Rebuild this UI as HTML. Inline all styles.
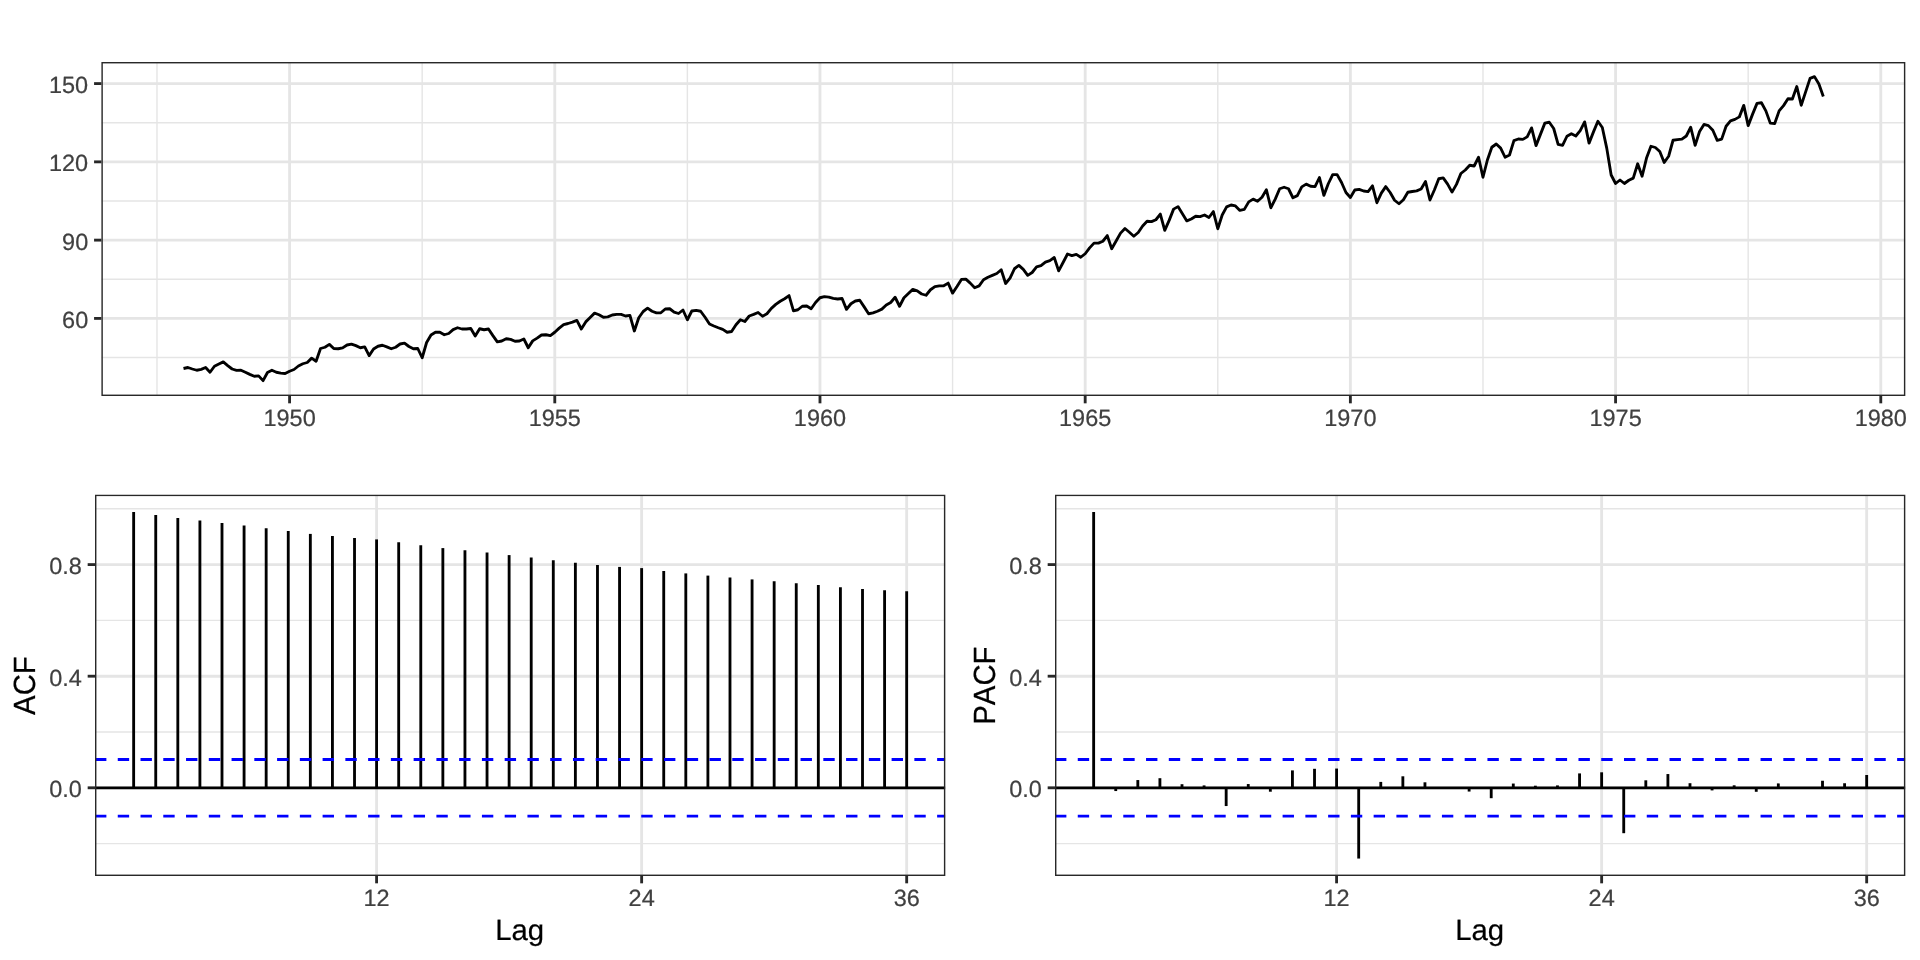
<!DOCTYPE html>
<html lang="en"><head><meta charset="utf-8"><title>Time series display</title>
<style>html,body{margin:0;padding:0;background:#fff;overflow:hidden}svg{display:block}.w{transform:translateZ(0);will-change:transform;width:1920px;height:960px}text{font-family:"Liberation Sans",Arial,Helvetica,sans-serif;font-kerning:none;text-rendering:geometricPrecision}.t{font-size:23.47px;fill:#404040;stroke:#404040;stroke-width:.22px}.h{font-size:29.33px;fill:#000;stroke:#000;stroke-width:.22px}</style></head><body><div class="w">
<svg width="1920" height="960" viewBox="0 0 1920 960">
<rect width="1920" height="960" fill="#fff"/>
<clipPath id="p1"><rect x="101.4" y="62" width="1803.93" height="334"/></clipPath>
<g clip-path="url(#p1)">
<line x1="101.4" y1="357.53" x2="1905.33" y2="357.53" stroke="#E5E5E5" stroke-width="1.42"/>
<line x1="101.4" y1="279.26" x2="1905.33" y2="279.26" stroke="#E5E5E5" stroke-width="1.42"/>
<line x1="101.4" y1="200.99" x2="1905.33" y2="200.99" stroke="#E5E5E5" stroke-width="1.42"/>
<line x1="101.4" y1="122.72" x2="1905.33" y2="122.72" stroke="#E5E5E5" stroke-width="1.42"/>
<line x1="156.98" y1="62" x2="156.98" y2="396" stroke="#E5E5E5" stroke-width="1.42"/>
<line x1="422.18" y1="62" x2="422.18" y2="396" stroke="#E5E5E5" stroke-width="1.42"/>
<line x1="687.38" y1="62" x2="687.38" y2="396" stroke="#E5E5E5" stroke-width="1.42"/>
<line x1="952.58" y1="62" x2="952.58" y2="396" stroke="#E5E5E5" stroke-width="1.42"/>
<line x1="1217.78" y1="62" x2="1217.78" y2="396" stroke="#E5E5E5" stroke-width="1.42"/>
<line x1="1482.98" y1="62" x2="1482.98" y2="396" stroke="#E5E5E5" stroke-width="1.42"/>
<line x1="1748.18" y1="62" x2="1748.18" y2="396" stroke="#E5E5E5" stroke-width="1.42"/>
<line x1="101.4" y1="318.4" x2="1905.33" y2="318.4" stroke="#E5E5E5" stroke-width="2.85"/>
<line x1="101.4" y1="240.13" x2="1905.33" y2="240.13" stroke="#E5E5E5" stroke-width="2.85"/>
<line x1="101.4" y1="161.86" x2="1905.33" y2="161.86" stroke="#E5E5E5" stroke-width="2.85"/>
<line x1="101.4" y1="83.59" x2="1905.33" y2="83.59" stroke="#E5E5E5" stroke-width="2.85"/>
<line x1="289.58" y1="62" x2="289.58" y2="396" stroke="#E5E5E5" stroke-width="2.85"/>
<line x1="554.78" y1="62" x2="554.78" y2="396" stroke="#E5E5E5" stroke-width="2.85"/>
<line x1="819.98" y1="62" x2="819.98" y2="396" stroke="#E5E5E5" stroke-width="2.85"/>
<line x1="1085.18" y1="62" x2="1085.18" y2="396" stroke="#E5E5E5" stroke-width="2.85"/>
<line x1="1350.38" y1="62" x2="1350.38" y2="396" stroke="#E5E5E5" stroke-width="2.85"/>
<line x1="1615.58" y1="62" x2="1615.58" y2="396" stroke="#E5E5E5" stroke-width="2.85"/>
<line x1="1880.78" y1="62" x2="1880.78" y2="396" stroke="#E5E5E5" stroke-width="2.85"/>
<polyline points="183.5,368.5 187.92,367.5 192.34,369 196.76,370.25 201.18,369.38 205.6,367.5 210.02,372.25 214.44,366.25 218.86,364 223.28,361.88 227.7,365.62 232.12,369 236.54,370.38 240.96,370.25 245.38,372.25 249.8,374.38 254.22,376.25 258.64,375.88 263.06,380.62 267.48,372.5 271.9,370.25 276.32,372.25 280.74,373.12 285.16,373.5 289.58,371.25 294,369.5 298.42,366 302.84,363.75 307.26,362.5 311.68,358.12 316.1,361.25 320.52,348.5 324.94,347.25 329.36,344.38 333.78,348.5 338.2,348.75 342.62,347.88 347.04,345 351.46,344.12 355.88,345.62 360.3,347.75 364.72,346.88 369.14,355.62 373.56,349 377.98,346.25 382.4,345.25 386.82,346.88 391.24,348.75 395.66,347.25 400.08,344 404.5,343.12 408.92,346.5 413.34,348.75 417.76,348.5 422.18,357.75 426.6,342.5 431.02,335 435.44,332.25 439.86,332.25 444.28,334.75 448.7,333.5 453.12,329.62 457.54,327.75 461.96,329 466.38,329 470.8,328.5 475.22,336 479.64,328.75 484.06,329.75 488.48,329 492.9,335.62 497.32,341.88 501.74,341 506.16,338.75 510.58,339.38 515,341.25 519.42,341 523.84,339 528.26,347.75 532.68,340.88 537.1,338.12 541.52,335 545.94,334.75 550.36,335.62 554.78,332.25 559.2,328.12 563.62,324.62 568.04,323.5 572.46,322.12 576.88,320.38 581.3,329 585.72,321.88 590.14,317.5 594.56,313.12 598.98,314.75 603.4,317.25 607.82,316.88 612.24,315 616.66,314.38 621.08,314.38 625.5,316 629.92,315.38 634.34,331 638.76,317.75 643.18,311.5 647.6,308.12 652.02,311.25 656.44,312.88 660.86,312.75 665.28,309 669.7,308.75 674.12,312.12 678.54,313.5 682.96,310 687.38,319.75 691.8,311 696.22,310.38 700.64,311.25 705.06,317.25 709.48,324 713.9,326 718.32,327.75 722.74,329.38 727.16,332.25 731.58,331.5 736,324.75 740.42,319.75 744.84,321.5 749.26,316 753.68,314.38 758.1,312.5 762.52,316.25 766.94,313.75 771.36,308.38 775.78,304.38 780.2,301.25 784.62,298.75 789.04,295.62 793.46,310.88 797.88,309.75 802.3,306.25 806.72,306 811.14,308.75 815.56,302.5 819.98,297.75 824.4,296.62 828.82,297.12 833.24,298.38 837.66,299 842.08,298.5 846.5,309.38 850.92,303.75 855.34,301 859.76,300.25 864.18,306.88 868.6,313.75 873.02,312.88 877.44,311.25 881.86,309.12 886.28,305 890.7,302.5 895.12,297.25 899.54,306.25 903.96,297.75 908.38,293.5 912.8,289.38 917.22,290.88 921.64,294 926.06,295.25 930.48,289.75 934.9,286.62 939.32,285.88 943.74,285.75 948.16,283.12 952.58,293.12 957,286.5 961.42,279.38 965.84,279.12 970.26,283.12 974.68,287.75 979.1,285.88 983.52,279.75 987.94,277.25 992.36,275.38 996.78,273.5 1001.2,269.75 1005.62,283.5 1010.04,278.12 1014.46,268.75 1018.88,265.38 1023.3,269.38 1027.72,275.38 1032.14,272.5 1036.56,266.88 1040.98,265.62 1045.4,262.12 1049.82,260.62 1054.24,257.5 1058.66,270.88 1063.08,262.5 1067.5,254 1071.92,255.62 1076.34,254.38 1080.76,257.25 1085.18,253.75 1089.6,247.88 1094.02,243.12 1098.44,243.12 1102.86,241.25 1107.28,235.62 1111.7,248.75 1116.12,241 1120.54,233.12 1124.96,228.5 1129.38,232.25 1133.8,236.25 1138.22,232.5 1142.64,226 1147.06,221.25 1151.48,221.62 1155.9,219.75 1160.32,214.12 1164.74,230.38 1169.16,220.38 1173.58,209.12 1178,206.62 1182.42,213.75 1186.84,220.88 1191.26,219 1195.68,216.25 1200.1,216.62 1204.52,215 1208.94,217.5 1213.36,211.62 1217.78,228.75 1222.2,215 1226.62,206.88 1231.04,205 1235.46,205.88 1239.88,210.38 1244.3,209.38 1248.72,201.88 1253.14,199.12 1257.56,201.25 1261.98,197.25 1266.4,189.75 1270.82,207.75 1275.24,199.12 1279.66,188.75 1284.08,187.25 1288.5,188.75 1292.92,197.75 1297.34,195.62 1301.76,186.88 1306.18,184.12 1310.6,186.25 1315.02,186.62 1319.44,177.5 1323.86,195.38 1328.28,183.75 1332.7,174.62 1337.12,174.62 1341.54,182.5 1345.96,192.5 1350.38,197.5 1354.8,190 1359.22,189.38 1363.64,191 1368.06,191.62 1372.48,185.88 1376.9,202.75 1381.32,193.12 1385.74,186.62 1390.16,192.5 1394.58,200.25 1399,203.75 1403.42,199.75 1407.84,192.25 1412.26,191.5 1416.68,190.88 1421.1,189 1425.52,181.5 1429.94,200 1434.36,190 1438.78,178.75 1443.2,177.88 1447.62,184.12 1452.04,192.12 1456.46,184.38 1460.88,173.5 1465.3,170 1469.72,165.25 1474.14,166 1478.56,157.25 1482.98,177.25 1487.4,160 1491.82,147.25 1496.24,144 1500.66,148.12 1505.08,157.25 1509.5,155 1513.92,140.62 1518.34,139 1522.76,139.38 1527.18,136.88 1531.6,127.88 1536.02,145.62 1540.44,134.38 1544.86,123.12 1549.28,122.25 1553.7,128.5 1558.12,144.38 1562.54,145.38 1566.96,136.25 1571.38,133.75 1575.8,136 1580.22,130.62 1584.64,121.88 1589.06,143.12 1593.48,131.88 1597.9,121.25 1602.32,127.5 1606.74,148.12 1611.16,175 1615.58,183.5 1620,180 1624.42,183.5 1628.84,180.25 1633.26,178.12 1637.68,163.75 1642.1,176.25 1646.52,158.12 1650.94,146.25 1655.36,147.5 1659.78,151.5 1664.2,162.5 1668.62,156.25 1673.04,140.25 1677.46,139.62 1681.88,139.12 1686.3,136 1690.72,127.25 1695.14,145.38 1699.56,131.5 1703.98,124.38 1708.4,125.62 1712.82,130.25 1717.24,140.38 1721.66,139.12 1726.08,126.25 1730.5,120.88 1734.92,119.38 1739.34,116.88 1743.76,105.38 1748.18,125.62 1752.6,114.12 1757.02,103.38 1761.44,102.75 1765.86,110.88 1770.28,123.12 1774.7,123.5 1779.12,110.88 1783.54,105.62 1787.96,98.75 1792.38,99 1796.8,86.5 1801.22,105.25 1805.64,91.88 1810.06,78.38 1814.48,76.62 1818.9,84 1823.32,96.5" fill="none" stroke="#000" stroke-width="2.85" stroke-linejoin="round" stroke-linecap="butt"/>
<rect x="101.4" y="62" width="1803.93" height="334" fill="none" stroke="#282828" stroke-width="2.85"/>
</g>
<line x1="94.07" y1="318.4" x2="101.4" y2="318.4" stroke="#282828" stroke-width="2.85"/>
<text class="t" x="88.2" y="328" text-anchor="end">60</text>
<line x1="94.07" y1="240.13" x2="101.4" y2="240.13" stroke="#282828" stroke-width="2.85"/>
<text class="t" x="88.2" y="249.73" text-anchor="end">90</text>
<line x1="94.07" y1="161.86" x2="101.4" y2="161.86" stroke="#282828" stroke-width="2.85"/>
<text class="t" x="88.2" y="171.46" text-anchor="end">120</text>
<line x1="94.07" y1="83.59" x2="101.4" y2="83.59" stroke="#282828" stroke-width="2.85"/>
<text class="t" x="88.2" y="93.19" text-anchor="end">150</text>
<line x1="289.58" y1="396" x2="289.58" y2="403.33" stroke="#282828" stroke-width="2.85"/>
<text class="t" x="289.58" y="426.4" text-anchor="middle">1950</text>
<line x1="554.78" y1="396" x2="554.78" y2="403.33" stroke="#282828" stroke-width="2.85"/>
<text class="t" x="554.78" y="426.4" text-anchor="middle">1955</text>
<line x1="819.98" y1="396" x2="819.98" y2="403.33" stroke="#282828" stroke-width="2.85"/>
<text class="t" x="819.98" y="426.4" text-anchor="middle">1960</text>
<line x1="1085.18" y1="396" x2="1085.18" y2="403.33" stroke="#282828" stroke-width="2.85"/>
<text class="t" x="1085.18" y="426.4" text-anchor="middle">1965</text>
<line x1="1350.38" y1="396" x2="1350.38" y2="403.33" stroke="#282828" stroke-width="2.85"/>
<text class="t" x="1350.38" y="426.4" text-anchor="middle">1970</text>
<line x1="1615.58" y1="396" x2="1615.58" y2="403.33" stroke="#282828" stroke-width="2.85"/>
<text class="t" x="1615.58" y="426.4" text-anchor="middle">1975</text>
<line x1="1880.78" y1="396" x2="1880.78" y2="403.33" stroke="#282828" stroke-width="2.85"/>
<text class="t" x="1880.78" y="426.4" text-anchor="middle">1980</text>
<clipPath id="p2"><rect x="95" y="494.67" width="850.33" height="381.33"/></clipPath>
<g clip-path="url(#p2)">
<line x1="95" y1="843.6" x2="945.33" y2="843.6" stroke="#E5E5E5" stroke-width="1.42"/>
<line x1="95" y1="732" x2="945.33" y2="732" stroke="#E5E5E5" stroke-width="1.42"/>
<line x1="95" y1="620.4" x2="945.33" y2="620.4" stroke="#E5E5E5" stroke-width="1.42"/>
<line x1="95" y1="508.8" x2="945.33" y2="508.8" stroke="#E5E5E5" stroke-width="1.42"/>
<line x1="95" y1="787.8" x2="945.33" y2="787.8" stroke="#E5E5E5" stroke-width="2.85"/>
<line x1="95" y1="676.2" x2="945.33" y2="676.2" stroke="#E5E5E5" stroke-width="2.85"/>
<line x1="95" y1="564.6" x2="945.33" y2="564.6" stroke="#E5E5E5" stroke-width="2.85"/>
<line x1="376.6" y1="494.67" x2="376.6" y2="876" stroke="#E5E5E5" stroke-width="2.85"/>
<line x1="641.64" y1="494.67" x2="641.64" y2="876" stroke="#E5E5E5" stroke-width="2.85"/>
<line x1="906.68" y1="494.67" x2="906.68" y2="876" stroke="#E5E5E5" stroke-width="2.85"/>
<line x1="95" y1="787.8" x2="945.33" y2="787.8" stroke="#000" stroke-width="2.85"/>
<line x1="133.65" y1="787.8" x2="133.65" y2="512.1" stroke="#000" stroke-width="2.85"/>
<line x1="155.74" y1="787.8" x2="155.74" y2="515" stroke="#000" stroke-width="2.85"/>
<line x1="177.82" y1="787.8" x2="177.82" y2="518" stroke="#000" stroke-width="2.85"/>
<line x1="199.91" y1="787.8" x2="199.91" y2="520.6" stroke="#000" stroke-width="2.85"/>
<line x1="222" y1="787.8" x2="222" y2="523.1" stroke="#000" stroke-width="2.85"/>
<line x1="244.08" y1="787.8" x2="244.08" y2="525.4" stroke="#000" stroke-width="2.85"/>
<line x1="266.17" y1="787.8" x2="266.17" y2="528.25" stroke="#000" stroke-width="2.85"/>
<line x1="288.26" y1="787.8" x2="288.26" y2="531" stroke="#000" stroke-width="2.85"/>
<line x1="310.34" y1="787.8" x2="310.34" y2="533.9" stroke="#000" stroke-width="2.85"/>
<line x1="332.43" y1="787.8" x2="332.43" y2="536" stroke="#000" stroke-width="2.85"/>
<line x1="354.52" y1="787.8" x2="354.52" y2="538" stroke="#000" stroke-width="2.85"/>
<line x1="376.6" y1="787.8" x2="376.6" y2="539.4" stroke="#000" stroke-width="2.85"/>
<line x1="398.69" y1="787.8" x2="398.69" y2="542.25" stroke="#000" stroke-width="2.85"/>
<line x1="420.78" y1="787.8" x2="420.78" y2="545.25" stroke="#000" stroke-width="2.85"/>
<line x1="442.86" y1="787.8" x2="442.86" y2="548.1" stroke="#000" stroke-width="2.85"/>
<line x1="464.95" y1="787.8" x2="464.95" y2="550.25" stroke="#000" stroke-width="2.85"/>
<line x1="487.04" y1="787.8" x2="487.04" y2="552.5" stroke="#000" stroke-width="2.85"/>
<line x1="509.12" y1="787.8" x2="509.12" y2="555.1" stroke="#000" stroke-width="2.85"/>
<line x1="531.21" y1="787.8" x2="531.21" y2="557.5" stroke="#000" stroke-width="2.85"/>
<line x1="553.29" y1="787.8" x2="553.29" y2="560.25" stroke="#000" stroke-width="2.85"/>
<line x1="575.38" y1="787.8" x2="575.38" y2="562.75" stroke="#000" stroke-width="2.85"/>
<line x1="597.47" y1="787.8" x2="597.47" y2="565" stroke="#000" stroke-width="2.85"/>
<line x1="619.55" y1="787.8" x2="619.55" y2="566.9" stroke="#000" stroke-width="2.85"/>
<line x1="641.64" y1="787.8" x2="641.64" y2="568.1" stroke="#000" stroke-width="2.85"/>
<line x1="663.73" y1="787.8" x2="663.73" y2="571" stroke="#000" stroke-width="2.85"/>
<line x1="685.81" y1="787.8" x2="685.81" y2="573.4" stroke="#000" stroke-width="2.85"/>
<line x1="707.9" y1="787.8" x2="707.9" y2="575.6" stroke="#000" stroke-width="2.85"/>
<line x1="729.99" y1="787.8" x2="729.99" y2="577.5" stroke="#000" stroke-width="2.85"/>
<line x1="752.07" y1="787.8" x2="752.07" y2="579.4" stroke="#000" stroke-width="2.85"/>
<line x1="774.16" y1="787.8" x2="774.16" y2="581.25" stroke="#000" stroke-width="2.85"/>
<line x1="796.25" y1="787.8" x2="796.25" y2="583.2" stroke="#000" stroke-width="2.85"/>
<line x1="818.33" y1="787.8" x2="818.33" y2="585.1" stroke="#000" stroke-width="2.85"/>
<line x1="840.42" y1="787.8" x2="840.42" y2="587.2" stroke="#000" stroke-width="2.85"/>
<line x1="862.51" y1="787.8" x2="862.51" y2="589" stroke="#000" stroke-width="2.85"/>
<line x1="884.59" y1="787.8" x2="884.59" y2="590.3" stroke="#000" stroke-width="2.85"/>
<line x1="906.68" y1="787.8" x2="906.68" y2="591.2" stroke="#000" stroke-width="2.85"/>
<line x1="95" y1="759.45" x2="945.33" y2="759.45" stroke="#00F" stroke-width="2.85" stroke-dasharray="11.38 11.38"/>
<line x1="95" y1="816.15" x2="945.33" y2="816.15" stroke="#00F" stroke-width="2.85" stroke-dasharray="11.38 11.38"/>
<rect x="95" y="494.67" width="850.33" height="381.33" fill="none" stroke="#282828" stroke-width="2.85"/>
</g>
<line x1="87.67" y1="787.8" x2="95" y2="787.8" stroke="#282828" stroke-width="2.85"/>
<text class="t" x="81.8" y="797.4" text-anchor="end">0.0</text>
<line x1="87.67" y1="676.2" x2="95" y2="676.2" stroke="#282828" stroke-width="2.85"/>
<text class="t" x="81.8" y="685.8" text-anchor="end">0.4</text>
<line x1="87.67" y1="564.6" x2="95" y2="564.6" stroke="#282828" stroke-width="2.85"/>
<text class="t" x="81.8" y="574.2" text-anchor="end">0.8</text>
<line x1="376.6" y1="876" x2="376.6" y2="883.33" stroke="#282828" stroke-width="2.85"/>
<text class="t" x="376.6" y="906.2" text-anchor="middle">12</text>
<line x1="641.64" y1="876" x2="641.64" y2="883.33" stroke="#282828" stroke-width="2.85"/>
<text class="t" x="641.64" y="906.2" text-anchor="middle">24</text>
<line x1="906.68" y1="876" x2="906.68" y2="883.33" stroke="#282828" stroke-width="2.85"/>
<text class="t" x="906.68" y="906.2" text-anchor="middle">36</text>
<text class="h" x="519.66" y="940" text-anchor="middle">Lag</text>
<text class="h" transform="translate(35.15,685.59) rotate(-90) scale(1,1.045)" text-anchor="middle">ACF</text>
<clipPath id="p3"><rect x="1055" y="494.67" width="850.33" height="381.33"/></clipPath>
<g clip-path="url(#p3)">
<line x1="1055" y1="843.6" x2="1905.33" y2="843.6" stroke="#E5E5E5" stroke-width="1.42"/>
<line x1="1055" y1="732" x2="1905.33" y2="732" stroke="#E5E5E5" stroke-width="1.42"/>
<line x1="1055" y1="620.4" x2="1905.33" y2="620.4" stroke="#E5E5E5" stroke-width="1.42"/>
<line x1="1055" y1="508.8" x2="1905.33" y2="508.8" stroke="#E5E5E5" stroke-width="1.42"/>
<line x1="1055" y1="787.8" x2="1905.33" y2="787.8" stroke="#E5E5E5" stroke-width="2.85"/>
<line x1="1055" y1="676.2" x2="1905.33" y2="676.2" stroke="#E5E5E5" stroke-width="2.85"/>
<line x1="1055" y1="564.6" x2="1905.33" y2="564.6" stroke="#E5E5E5" stroke-width="2.85"/>
<line x1="1336.6" y1="494.67" x2="1336.6" y2="876" stroke="#E5E5E5" stroke-width="2.85"/>
<line x1="1601.64" y1="494.67" x2="1601.64" y2="876" stroke="#E5E5E5" stroke-width="2.85"/>
<line x1="1866.68" y1="494.67" x2="1866.68" y2="876" stroke="#E5E5E5" stroke-width="2.85"/>
<line x1="1055" y1="787.8" x2="1905.33" y2="787.8" stroke="#000" stroke-width="2.85"/>
<line x1="1093.65" y1="787.8" x2="1093.65" y2="512" stroke="#000" stroke-width="2.85"/>
<line x1="1115.74" y1="787.8" x2="1115.74" y2="791.05" stroke="#000" stroke-width="2.85"/>
<line x1="1137.82" y1="787.8" x2="1137.82" y2="780.05" stroke="#000" stroke-width="2.85"/>
<line x1="1159.91" y1="787.8" x2="1159.91" y2="778.2" stroke="#000" stroke-width="2.85"/>
<line x1="1182" y1="787.8" x2="1182" y2="784.2" stroke="#000" stroke-width="2.85"/>
<line x1="1204.08" y1="787.8" x2="1204.08" y2="785.4" stroke="#000" stroke-width="2.85"/>
<line x1="1226.17" y1="787.8" x2="1226.17" y2="806.05" stroke="#000" stroke-width="2.85"/>
<line x1="1248.26" y1="787.8" x2="1248.26" y2="784.05" stroke="#000" stroke-width="2.85"/>
<line x1="1270.34" y1="787.8" x2="1270.34" y2="791.7" stroke="#000" stroke-width="2.85"/>
<line x1="1292.43" y1="787.8" x2="1292.43" y2="770.4" stroke="#000" stroke-width="2.85"/>
<line x1="1314.52" y1="787.8" x2="1314.52" y2="768.8" stroke="#000" stroke-width="2.85"/>
<line x1="1336.6" y1="787.8" x2="1336.6" y2="768.55" stroke="#000" stroke-width="2.85"/>
<line x1="1358.69" y1="787.8" x2="1358.69" y2="858.55" stroke="#000" stroke-width="2.85"/>
<line x1="1380.78" y1="787.8" x2="1380.78" y2="781.9" stroke="#000" stroke-width="2.85"/>
<line x1="1402.86" y1="787.8" x2="1402.86" y2="776.3" stroke="#000" stroke-width="2.85"/>
<line x1="1424.95" y1="787.8" x2="1424.95" y2="782.3" stroke="#000" stroke-width="2.85"/>
<line x1="1447.04" y1="787.8" x2="1447.04" y2="787.5" stroke="#000" stroke-width="2.85"/>
<line x1="1469.12" y1="787.8" x2="1469.12" y2="791.55" stroke="#000" stroke-width="2.85"/>
<line x1="1491.21" y1="787.8" x2="1491.21" y2="798.2" stroke="#000" stroke-width="2.85"/>
<line x1="1513.29" y1="787.8" x2="1513.29" y2="783.55" stroke="#000" stroke-width="2.85"/>
<line x1="1535.38" y1="787.8" x2="1535.38" y2="785.7" stroke="#000" stroke-width="2.85"/>
<line x1="1557.47" y1="787.8" x2="1557.47" y2="785.4" stroke="#000" stroke-width="2.85"/>
<line x1="1579.55" y1="787.8" x2="1579.55" y2="773.4" stroke="#000" stroke-width="2.85"/>
<line x1="1601.64" y1="787.8" x2="1601.64" y2="772.3" stroke="#000" stroke-width="2.85"/>
<line x1="1623.73" y1="787.8" x2="1623.73" y2="833.2" stroke="#000" stroke-width="2.85"/>
<line x1="1645.81" y1="787.8" x2="1645.81" y2="780.3" stroke="#000" stroke-width="2.85"/>
<line x1="1667.9" y1="787.8" x2="1667.9" y2="774.05" stroke="#000" stroke-width="2.85"/>
<line x1="1689.99" y1="787.8" x2="1689.99" y2="783.2" stroke="#000" stroke-width="2.85"/>
<line x1="1712.07" y1="787.8" x2="1712.07" y2="790.4" stroke="#000" stroke-width="2.85"/>
<line x1="1734.16" y1="787.8" x2="1734.16" y2="785.3" stroke="#000" stroke-width="2.85"/>
<line x1="1756.25" y1="787.8" x2="1756.25" y2="791.8" stroke="#000" stroke-width="2.85"/>
<line x1="1778.33" y1="787.8" x2="1778.33" y2="783.4" stroke="#000" stroke-width="2.85"/>
<line x1="1800.42" y1="787.8" x2="1800.42" y2="787" stroke="#000" stroke-width="2.85"/>
<line x1="1822.51" y1="787.8" x2="1822.51" y2="780.8" stroke="#000" stroke-width="2.85"/>
<line x1="1844.59" y1="787.8" x2="1844.59" y2="783.3" stroke="#000" stroke-width="2.85"/>
<line x1="1866.68" y1="787.8" x2="1866.68" y2="774.9" stroke="#000" stroke-width="2.85"/>
<line x1="1055" y1="759.45" x2="1905.33" y2="759.45" stroke="#00F" stroke-width="2.85" stroke-dasharray="11.38 11.38"/>
<line x1="1055" y1="816.15" x2="1905.33" y2="816.15" stroke="#00F" stroke-width="2.85" stroke-dasharray="11.38 11.38"/>
<rect x="1055" y="494.67" width="850.33" height="381.33" fill="none" stroke="#282828" stroke-width="2.85"/>
</g>
<line x1="1047.67" y1="787.8" x2="1055" y2="787.8" stroke="#282828" stroke-width="2.85"/>
<text class="t" x="1041.8" y="797.4" text-anchor="end">0.0</text>
<line x1="1047.67" y1="676.2" x2="1055" y2="676.2" stroke="#282828" stroke-width="2.85"/>
<text class="t" x="1041.8" y="685.8" text-anchor="end">0.4</text>
<line x1="1047.67" y1="564.6" x2="1055" y2="564.6" stroke="#282828" stroke-width="2.85"/>
<text class="t" x="1041.8" y="574.2" text-anchor="end">0.8</text>
<line x1="1336.6" y1="876" x2="1336.6" y2="883.33" stroke="#282828" stroke-width="2.85"/>
<text class="t" x="1336.6" y="906.2" text-anchor="middle">12</text>
<line x1="1601.64" y1="876" x2="1601.64" y2="883.33" stroke="#282828" stroke-width="2.85"/>
<text class="t" x="1601.64" y="906.2" text-anchor="middle">24</text>
<line x1="1866.68" y1="876" x2="1866.68" y2="883.33" stroke="#282828" stroke-width="2.85"/>
<text class="t" x="1866.68" y="906.2" text-anchor="middle">36</text>
<text class="h" x="1479.66" y="940" text-anchor="middle">Lag</text>
<text class="h" transform="translate(995.15,685.59) rotate(-90) scale(1,1.045)" text-anchor="middle">PACF</text>
</svg></div></body></html>
